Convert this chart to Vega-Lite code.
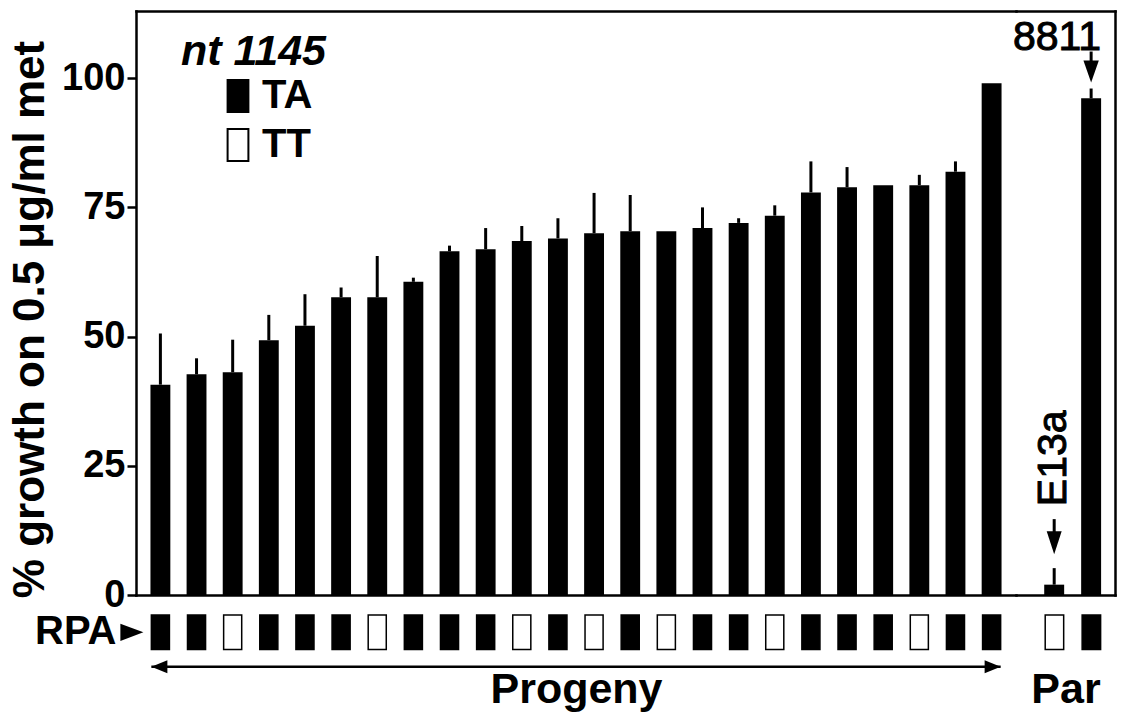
{
  "$schema": "https://vega.github.io/schema/vega-lite/v6.json",
  "background": "white",
  "padding": {"left": 8, "top": 11, "right": 4, "bottom": 2},
  "config": {
    "font": "Liberation Sans",
    "view": {"stroke": null},
    "axis": {"domainColor": "black", "domainWidth": 2.5, "domainCap": "square", "tickColor": "black", "labelColor": "black", "titleColor": "black", "grid": false}
  },
  "datasets": {
    "strains": [
      {"strain": "P1", "group": "Progeny", "genotype": "TA", "mean": 40.7, "hi": 50.6},
      {"strain": "P2", "group": "Progeny", "genotype": "TA", "mean": 42.7, "hi": 45.8},
      {"strain": "P3", "group": "Progeny", "genotype": "TT", "mean": 43.1, "hi": 49.4},
      {"strain": "P4", "group": "Progeny", "genotype": "TA", "mean": 49.3, "hi": 54.2},
      {"strain": "P5", "group": "Progeny", "genotype": "TA", "mean": 52.1, "hi": 58.2},
      {"strain": "P6", "group": "Progeny", "genotype": "TA", "mean": 57.6, "hi": 59.5},
      {"strain": "P7", "group": "Progeny", "genotype": "TT", "mean": 57.6, "hi": 65.6},
      {"strain": "P8", "group": "Progeny", "genotype": "TA", "mean": 60.6, "hi": 61.4},
      {"strain": "P9", "group": "Progeny", "genotype": "TA", "mean": 66.5, "hi": 67.6},
      {"strain": "P10", "group": "Progeny", "genotype": "TA", "mean": 66.9, "hi": 71.0},
      {"strain": "P11", "group": "Progeny", "genotype": "TT", "mean": 68.5, "hi": 71.4},
      {"strain": "P12", "group": "Progeny", "genotype": "TA", "mean": 69.0, "hi": 72.9},
      {"strain": "P13", "group": "Progeny", "genotype": "TT", "mean": 70.0, "hi": 77.8},
      {"strain": "P14", "group": "Progeny", "genotype": "TA", "mean": 70.4, "hi": 77.4},
      {"strain": "P15", "group": "Progeny", "genotype": "TT", "mean": 70.4, "hi": null},
      {"strain": "P16", "group": "Progeny", "genotype": "TA", "mean": 71.0, "hi": 75.0},
      {"strain": "P17", "group": "Progeny", "genotype": "TA", "mean": 72.0, "hi": 72.9},
      {"strain": "P18", "group": "Progeny", "genotype": "TT", "mean": 73.4, "hi": 75.4},
      {"strain": "P19", "group": "Progeny", "genotype": "TA", "mean": 77.9, "hi": 83.9},
      {"strain": "P20", "group": "Progeny", "genotype": "TA", "mean": 78.9, "hi": 82.8},
      {"strain": "P21", "group": "Progeny", "genotype": "TA", "mean": 79.3, "hi": null},
      {"strain": "P22", "group": "Progeny", "genotype": "TT", "mean": 79.3, "hi": 81.3},
      {"strain": "P23", "group": "Progeny", "genotype": "TA", "mean": 81.9, "hi": 83.9},
      {"strain": "P24", "group": "Progeny", "genotype": "TA", "mean": 99.0, "hi": null},
      {"strain": "E13a", "group": "Par", "genotype": "TT", "mean": 2.0, "hi": 5.2},
      {"strain": "8811", "group": "Par", "genotype": "TA", "mean": 96.1, "hi": 98.0}
    ],
    "span": [{"from": "P1", "to": "P24"}]
  },
  "columns": 2,
  "bounds": "flush",
  "spacing": {"row": 20, "column": 0},
  "concat": [
    {
      "width": 880,
      "height": 584,
      "data": {"name": "strains"},
      "transform": [{"filter": "datum.group === 'Progeny'"}],
      "layer": [
        {
          "mark": {"type": "bar", "color": "black"},
          "encoding": {
            "x": {
              "field": "strain", "type": "nominal", "sort": null,
              "scale": {"domain": ["P1","P2","P3","P4","P5","P6","P7","P8","P9","P10","P11","P12","P13","P14","P15","P16","P17","P18","P19","P20","P21","P22","P23","P24"], "paddingInner": 0.45, "paddingOuter": 0.4},
              "axis": {"orient": "bottom", "domain": true, "ticks": false, "labels": false, "title": null}
            },
            "y": {
              "field": "mean", "type": "quantitative",
              "scale": {"domain": [0, 113], "nice": false},
              "axis": {
                "orient": "left", "values": [0, 25, 50, 75, 100],
                "tickSize": 9, "tickWidth": 2.5,
                "labelFontSize": 38, "labelFontWeight": "bold", "labelPadding": 2,
                "title": "% growth on 0.5 μg/ml met",
                "titleFontSize": 44, "titleFontWeight": "bold", "titlePadding": 9, "titleY": 308
              }
            }
          }
        },
        {
          "transform": [{"filter": "isValid(datum.hi)"}],
          "mark": {"type": "rule", "color": "black", "strokeWidth": 3},
          "encoding": {
            "x": {"field": "strain", "type": "nominal", "sort": null, "axis": {"orient": "top", "domain": true, "ticks": false, "labels": false, "title": null}},
            "y": {"field": "mean", "type": "quantitative"},
            "y2": {"field": "hi"}
          }
        }
      ],
      "resolve": {"axis": {"x": "independent"}}
    },
    {
      "width": 99,
      "height": 584,
      "data": {"name": "strains"},
      "transform": [{"filter": "datum.group === 'Par'"}],
      "layer": [
        {
          "mark": {"type": "bar", "color": "black"},
          "encoding": {
            "x": {
              "field": "strain", "type": "nominal", "sort": null,
              "scale": {"domain": ["E13a", "8811"], "paddingInner": 0.46, "paddingOuter": 0.57, "align": 0.67},
              "axis": {"orient": "bottom", "domain": true, "ticks": false, "labels": false, "title": null}
            },
            "y": {
              "field": "mean", "type": "quantitative",
              "scale": {"domain": [0, 113], "nice": false},
              "axis": {"orient": "right", "domain": true, "ticks": false, "labels": false, "title": null}
            }
          }
        },
        {
          "mark": {"type": "rule", "color": "black", "strokeWidth": 3},
          "encoding": {
            "x": {"field": "strain", "type": "nominal", "sort": null, "axis": {"orient": "top", "domain": true, "ticks": false, "labels": false, "title": null}},
            "y": {"field": "mean", "type": "quantitative"},
            "y2": {"field": "hi"}
          }
        },
        {
          "transform": [{"filter": "datum.strain === '8811'"}],
          "layer": [
            {
              "mark": {"type": "text", "fontSize": 41, "align": "right", "baseline": "alphabetic", "xOffset": 10, "yOffset": -39, "color": "black", "stroke": "black", "strokeWidth": 1},
              "encoding": {
                "x": {"field": "strain", "type": "nominal", "axis": null},
                "y": {"field": "hi", "type": "quantitative"},
                "text": {"field": "strain"}
              }
            },
            {
              "mark": {"type": "rule", "color": "black", "strokeWidth": 3, "yOffset": -15, "y2Offset": -37},
              "encoding": {
                "x": {"field": "strain", "type": "nominal", "axis": null},
                "y": {"field": "hi", "type": "quantitative"},
                "y2": {"field": "hi"}
              }
            },
            {
              "mark": {"type": "point", "shape": "M0,0L-0.7,-2L0.7,-2Z", "size": 484, "filled": true, "color": "black", "opacity": 1, "yOffset": -6},
              "encoding": {
                "x": {"field": "strain", "type": "nominal", "axis": null},
                "y": {"field": "hi", "type": "quantitative"}
              }
            }
          ]
        },
        {
          "transform": [{"filter": "datum.strain === 'E13a'"}],
          "layer": [
            {
              "mark": {"type": "text", "fontSize": 41, "angle": 270, "align": "left", "baseline": "middle", "yOffset": -62, "color": "black", "stroke": "black", "strokeWidth": 1},
              "encoding": {
                "x": {"field": "strain", "type": "nominal", "axis": null},
                "y": {"field": "hi", "type": "quantitative"},
                "text": {"field": "strain"}
              }
            },
            {
              "mark": {"type": "rule", "color": "black", "strokeWidth": 3, "yOffset": -30, "y2Offset": -49},
              "encoding": {
                "x": {"field": "strain", "type": "nominal", "axis": null},
                "y": {"field": "hi", "type": "quantitative"},
                "y2": {"field": "hi"}
              }
            },
            {
              "mark": {"type": "point", "shape": "M0,0L-0.65,-2L0.65,-2Z", "size": 529, "filled": true, "color": "black", "opacity": 1, "yOffset": -14},
              "encoding": {
                "x": {"field": "strain", "type": "nominal", "axis": null},
                "y": {"field": "hi", "type": "quantitative"}
              }
            }
          ]
        }
      ],
      "resolve": {"axis": {"x": "independent"}}
    },
    {
      "width": 880,
      "height": 69,
      "layer": [
        {
          "data": {"name": "strains"},
          "transform": [{"filter": "datum.group === 'Progeny'"}],
          "mark": {"type": "rect", "stroke": "black", "strokeWidth": 1.5},
          "encoding": {
            "x": {
              "field": "strain", "type": "nominal", "sort": null,
              "scale": {"domain": ["P1","P2","P3","P4","P5","P6","P7","P8","P9","P10","P11","P12","P13","P14","P15","P16","P17","P18","P19","P20","P21","P22","P23","P24"], "paddingInner": 0.5, "paddingOuter": 0.425},
              "axis": {"orient": "bottom", "domain": false, "ticks": false, "labels": false, "title": "Progeny", "titleFontSize": 43, "titleFontWeight": "bold", "titleBaseline": "alphabetic", "titleY": 18}
            },
            "y": {
              "datum": "RPA", "type": "nominal",
              "scale": {"domain": ["RPA", "span"], "paddingInner": 0, "paddingOuter": 0},
              "axis": {"domain": false, "ticks": false, "labelFontSize": 40, "labelFontWeight": "bold", "labelColor": "black", "labelPadding": 20, "title": null, "labelExpr": "datum.value === 'RPA' ? 'RPA' : ''"}
            },
            "fill": {
              "field": "genotype", "type": "nominal",
              "scale": {"domain": ["TA", "TT"], "range": ["black", "white"]},
              "legend": {
                "orient": "none", "legendX": 45, "legendY": 20, "padding": 0,
                "title": "nt 1145", "titleFontSize": 43, "titleFontWeight": "bold", "titleFontStyle": "italic", "titleColor": "black", "titlePadding": 2,
                "labelFontSize": 40, "labelFontWeight": "bold", "labelColor": "black", "labelOffset": 4,
                "symbolType": "M-0.65,-1H0.65V1H-0.65Z", "symbolSize": 1024, "symbolStrokeColor": "black", "symbolStrokeWidth": 2, "symbolOffset": 37,
                "rowPadding": 9
              }
            }
          }
        },
        {
          "data": {"name": "span"},
          "mark": {"type": "rule", "color": "black", "strokeWidth": 2.5},
          "encoding": {
            "x": {"field": "from", "type": "nominal", "bandPosition": 0},
            "x2": {"field": "to", "bandPosition": 1},
            "y": {"datum": "span", "type": "nominal", "bandPosition": 0.5}
          }
        },
        {
          "data": {"name": "span"},
          "mark": {"type": "point", "shape": "M0,0L2,-0.8L2,0.8Z", "size": 256, "filled": true, "color": "black", "opacity": 1},
          "encoding": {
            "x": {"field": "from", "type": "nominal", "bandPosition": 0},
            "y": {"datum": "span", "type": "nominal", "bandPosition": 0.5}
          }
        },
        {
          "data": {"name": "span"},
          "mark": {"type": "point", "shape": "M0,0L-2,-0.8L-2,0.8Z", "size": 256, "filled": true, "color": "black", "opacity": 1},
          "encoding": {
            "x": {"field": "to", "type": "nominal", "bandPosition": 1},
            "y": {"datum": "span", "type": "nominal", "bandPosition": 0.5}
          }
        },
        {
          "data": {"name": "span"},
          "mark": {"type": "point", "shape": "M0,0L-2,-0.75L-2,0.75Z", "size": 529, "filled": true, "color": "black", "opacity": 1, "xOffset": -8},
          "encoding": {
            "x": {"field": "from", "type": "nominal", "bandPosition": 0},
            "y": {"datum": "RPA", "type": "nominal", "bandPosition": 0.5}
          }
        }
      ]
    },
    {
      "width": 99,
      "height": 69,
      "data": {"name": "strains"},
      "transform": [{"filter": "datum.group === 'Par'"}],
      "mark": {"type": "rect", "stroke": "black", "strokeWidth": 1.5},
      "encoding": {
        "x": {
          "field": "strain", "type": "nominal", "sort": null,
          "scale": {"domain": ["E13a", "8811"], "paddingInner": 0.5, "paddingOuter": 0.59, "align": 0.67},
          "axis": {"orient": "bottom", "domain": false, "ticks": false, "labels": false, "title": "Par", "titleFontSize": 43, "titleFontWeight": "bold", "titleBaseline": "alphabetic", "titleY": 18}
        },
        "y": {
          "datum": "RPA", "type": "nominal",
          "scale": {"domain": ["RPA", "span"], "paddingInner": 0, "paddingOuter": 0},
          "axis": null
        },
        "fill": {"field": "genotype", "type": "nominal", "scale": {"domain": ["TA", "TT"], "range": ["black", "white"]}}
      }
    }
  ]
}
